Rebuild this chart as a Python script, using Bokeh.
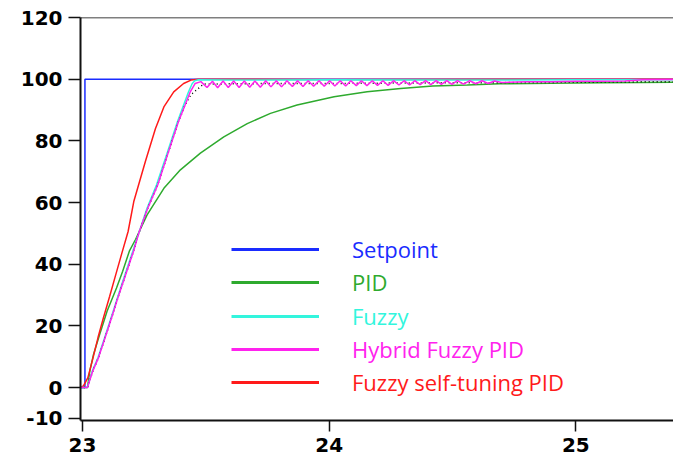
from bokeh.plotting import figure
from bokeh.models import (Range1d, FixedTicker, Span, Legend, LegendItem)
from bokeh.embed import file_html
from bokeh.resources import INLINE

# ---------------- data ----------------
setpoint_t = [22.99, 23.01, 23.01, 25.40]
setpoint_v = [0, 0, 100, 100]

pid_t = [22.99, 23.02, 23.03, 23.045, 23.07, 23.10, 23.138, 23.163, 23.19, 23.215,
         23.262, 23.33, 23.397, 23.478, 23.573, 23.668, 23.762, 23.87, 24.02,
         24.154, 24.29, 24.42, 24.56, 24.69, 24.90, 25.10, 25.26, 25.40]
pid_v = [0, 0, 5.4, 10.8, 17.3, 24.8, 32.3, 37.7, 44.2, 48.0,
         56.0, 64.6, 70.6, 76.0, 81.3, 85.6, 88.9, 91.6, 94.3,
         95.9, 97.0, 97.8, 98.1, 98.5, 98.7, 98.8, 98.9, 99.0]

fuzzy_t = [22.99, 23.02, 23.04, 23.063, 23.09, 23.116, 23.146, 23.172, 23.204,
           23.262, 23.30, 23.345, 23.385, 23.41, 23.43, 23.445, 23.455, 23.47,
           23.60, 24.00, 24.50, 25.00, 25.40]
fuzzy_v = [0, 0, 5.4, 9.7, 16.2, 22.6, 30.2, 36.6, 44.2,
           58.2, 65.7, 76.5, 86.2, 91.6, 95.9, 98.6, 99.5, 99.8,
           99.7, 99.8, 99.7, 99.8, 99.8]

hidden_t = [22.99, 23.02, 23.042, 23.065, 23.092, 23.118, 23.148, 23.175, 23.207,
            23.228, 23.265, 23.305, 23.349, 23.389, 23.416, 23.44, 23.47, 23.49,
            23.60, 23.80, 24.00, 24.40, 24.80, 25.20, 25.40]
hidden_v = [0, 0, 5.4, 9.7, 16.2, 22.6, 30.2, 36.6, 44.2,
            50.0, 58.2, 65.7, 76.5, 86.2, 91.6, 95.0, 97.0, 98.4,
            98.5, 98.6, 98.6, 98.8, 98.9, 99.1, 99.2]

hybrid_t = [22.99, 23.02, 23.042, 23.065, 23.092, 23.118, 23.148, 23.175, 23.207,
            23.228, 23.265, 23.305, 23.349, 23.389, 23.416, 23.437, 23.457, 23.48,
            23.505, 23.527, 23.548, 23.570, 23.591, 23.613, 23.635, 23.656, 23.678,
            23.699, 23.721, 23.743, 23.764, 23.786, 23.807, 23.829, 23.851, 23.872,
            23.894, 23.915, 23.937, 23.959, 23.980, 24.002, 24.023, 24.045, 24.067,
            24.088, 24.110, 24.131, 24.153, 24.175, 24.196, 24.218, 24.239, 24.261,
            24.283, 24.304, 24.326, 24.347, 24.369, 24.391, 24.412, 24.434, 24.455,
            24.477, 24.498, 24.52, 24.545, 24.57, 24.595, 24.62, 24.645, 24.67,
            24.70, 24.80, 24.90, 25.00, 25.10, 25.20, 25.27, 25.40]
hybrid_v = [0, 0, 5.4, 9.7, 16.2, 22.6, 30.2, 36.6, 44.2,
            50.0, 58.2, 65.7, 76.5, 86.2, 91.6, 95.9, 98.6, 99.2,
            97.3, 99.3, 97.2, 99.4, 97.3, 99.4, 97.3, 99.4, 97.4,
            99.4, 97.4, 99.5, 97.5, 99.5, 97.5, 99.5, 97.6, 99.5,
            97.6, 99.5, 97.7, 99.5, 97.7, 99.5, 97.8, 99.5, 97.8,
            99.5, 97.9, 99.5, 97.9, 99.5, 98.0, 99.5, 98.0, 99.5,
            98.1, 99.5, 98.1, 99.5, 98.2, 99.5, 98.2, 99.5, 98.3,
            99.5, 98.3, 99.5, 98.4, 99.5, 98.5, 99.5, 98.6, 99.4,
            98.9, 99.2, 99.2, 99.3, 99.3, 99.4, 99.8, 99.9]

fst_t = [22.99, 23.004, 23.022, 23.043, 23.063, 23.085, 23.11, 23.135, 23.158,
         23.185, 23.208, 23.255, 23.296, 23.33, 23.37, 23.41, 23.44, 23.47,
         24.00, 25.00, 25.40]
fst_v = [0, 0.5, 3.2, 9.7, 16.2, 22.6, 29.5, 36.6, 43.1,
         50.6, 60.3, 73.3, 84.0, 91.0, 95.9, 98.6, 99.7, 100,
         99.9, 100, 100]

series_names = ["Setpoint", "PID", "Fuzzy", "Hybrid Fuzzy PID", "Fuzzy self-tuning PID"]
series_colors = ["#1a2cff", "#2eaa2e", "#33f5dd", "#ff22ee", "#ff1a1a"]

y_ticks = [-10, 0, 20, 40, 60, 80, 100, 120]
x_ticks = [23, 24, 25]

# ---------------- figure ----------------
p = figure(width=673, height=461, output_backend="svg", toolbar_location=None,
           x_range=Range1d(22.992, 25.396), y_range=Range1d(-10.7, 120),
           min_border_left=80, min_border_right=0, min_border_top=17,
           min_border_bottom=41)
p.outline_line_color = None
p.xgrid.visible = False
p.ygrid.visible = False
p.background_fill_color = "white"

# top frame line
p.add_layout(Span(location=120, dimension="width", line_color="black", line_width=1.5))

lw = 1.5
p.line(setpoint_t, setpoint_v, color=series_colors[0], line_width=lw)
p.line(pid_t, pid_v, color=series_colors[1], line_width=lw)
p.line(fst_t, fst_v, color=series_colors[4], line_width=lw)
p.line(fuzzy_t, fuzzy_v, color=series_colors[2], line_width=lw)
p.line(hidden_t, hidden_v, color="black", line_width=lw, line_dash="1 3")
p.line(hybrid_t, hybrid_v, color=series_colors[3], line_width=lw)

# axes
for ax in (p.xaxis[0], p.yaxis[0]):
    ax.axis_line_color = "#111111"
    ax.axis_line_width = 2
    ax.major_tick_line_color = "#111111"
    ax.major_tick_line_width = 1.5
    ax.major_tick_in = 0
    ax.minor_tick_line_color = None
    ax.major_label_text_font = "DejaVu Sans"
    ax.major_label_text_font_style = "bold"
    ax.major_label_text_color = "black"

p.yaxis.ticker = FixedTicker(ticks=y_ticks)
p.yaxis.major_tick_out = 12
p.yaxis.major_label_standoff = 6
p.yaxis.major_label_text_font_size = "20px"
p.yaxis.major_label_overrides = {-10: "-10"}

p.xaxis.ticker = FixedTicker(ticks=x_ticks)
p.xaxis.major_tick_out = 11
p.xaxis.major_label_standoff = 6
p.xaxis.major_label_text_font_size = "20px"

# legend: one single-item legend per series so each label has its own colour
nan = float("nan")
row_offsets = [156, 122.7, 89.3, 56, 22.7]
for name, col, yoff in zip(series_names, series_colors, row_offsets):
    r = p.line(x=[nan], y=[nan], color=col, line_width=3)
    leg = Legend(items=[LegendItem(label=name, renderers=[r])],
                 location=(151, yoff), orientation="vertical",
                 glyph_width=88, glyph_height=30, label_height=30,
                 label_standoff=33, padding=0, margin=0, spacing=0,
                 border_line_color=None, background_fill_alpha=0,
                 label_text_font="Open Sans", label_text_font_size="22px",
                 label_text_color=col)
    p.add_layout(leg, "center")

open("out.html", "w").write(file_html(p, INLINE))
